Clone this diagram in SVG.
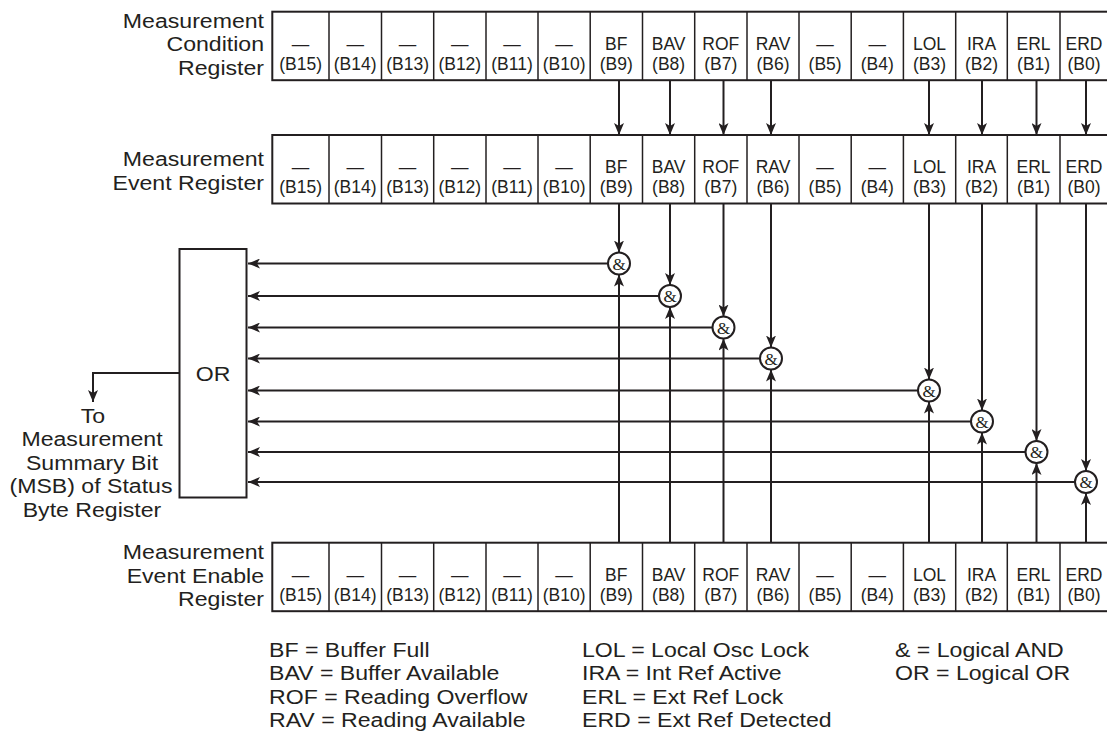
<svg xmlns="http://www.w3.org/2000/svg" width="1107" height="732" viewBox="0 0 1107 732">
<style>
text{font-family:"Liberation Sans",Arial,Helvetica,sans-serif;fill:#231f20}
.lbl{font-size:21px;text-anchor:end}
.cell{font-size:17.5px;text-anchor:middle}
.leg{font-size:21px}
.box{fill:#fff;stroke:#231f20;stroke-width:2}
.div{stroke:#231f20;stroke-width:1.5}
.wire{stroke:#231f20;stroke-width:2;fill:none}
.arr{marker-end:url(#ah)}
.gate circle{fill:#fff;stroke:#231f20;stroke-width:2}
.amp{font-family:"Liberation Serif","Times New Roman",serif;font-size:17px;text-anchor:middle}
.ortxt{font-size:21px;text-anchor:middle}
.out{font-size:21px;text-anchor:middle}
</style>
<defs>
<marker id="ah" viewBox="0 0 12 10" refX="12" refY="5" markerWidth="12" markerHeight="10" markerUnits="userSpaceOnUse" orient="auto">
<path d="M0,0 L12,5 L0,10 L3,5 Z" fill="#231f20"/>
</marker>
</defs>

<!-- Measurement Condition Register -->
<g id="condition-register">
<g transform="translate(264,0) scale(1.1,1)">
<text class="lbl" x="0" y="27.7">Measurement</text>
<text class="lbl" x="0" y="51.4">Condition</text>
<text class="lbl" x="0" y="75.1">Register</text>
</g>
<rect class="box" x="272.3" y="11.7" width="840" height="68.5"/>
<g class="div">
<line x1="329" y1="11.7" x2="329" y2="80.2"/><line x1="381.5" y1="11.7" x2="381.5" y2="80.2"/><line x1="433.7" y1="11.7" x2="433.7" y2="80.2"/><line x1="486" y1="11.7" x2="486" y2="80.2"/><line x1="538" y1="11.7" x2="538" y2="80.2"/><line x1="590.2" y1="11.7" x2="590.2" y2="80.2"/><line x1="642.5" y1="11.7" x2="642.5" y2="80.2"/><line x1="694.7" y1="11.7" x2="694.7" y2="80.2"/><line x1="747" y1="11.7" x2="747" y2="80.2"/><line x1="799" y1="11.7" x2="799" y2="80.2"/><line x1="851.2" y1="11.7" x2="851.2" y2="80.2"/><line x1="903.4" y1="11.7" x2="903.4" y2="80.2"/><line x1="955.7" y1="11.7" x2="955.7" y2="80.2"/><line x1="1007.3" y1="11.7" x2="1007.3" y2="80.2"/><line x1="1060" y1="11.7" x2="1060" y2="80.2"/>
</g>
<g class="cell">
<text x="300.6" y="49.7">—</text><text x="300.6" y="69.7">(B15)</text>
<text x="355.2" y="49.7">—</text><text x="355.2" y="69.7">(B14)</text>
<text x="407.6" y="49.7">—</text><text x="407.6" y="69.7">(B13)</text>
<text x="459.8" y="49.7">—</text><text x="459.8" y="69.7">(B12)</text>
<text x="512" y="49.7">—</text><text x="512" y="69.7">(B11)</text>
<text x="564.1" y="49.7">—</text><text x="564.1" y="69.7">(B10)</text>
<text x="616.3" y="49.7">BF</text><text x="616.3" y="69.7">(B9)</text>
<text x="668.6" y="49.7">BAV</text><text x="668.6" y="69.7">(B8)</text>
<text x="720.8" y="49.7">ROF</text><text x="720.8" y="69.7">(B7)</text>
<text x="773" y="49.7">RAV</text><text x="773" y="69.7">(B6)</text>
<text x="825.1" y="49.7">—</text><text x="825.1" y="69.7">(B5)</text>
<text x="877.3" y="49.7">—</text><text x="877.3" y="69.7">(B4)</text>
<text x="929.5" y="49.7">LOL</text><text x="929.5" y="69.7">(B3)</text>
<text x="981.5" y="49.7">IRA</text><text x="981.5" y="69.7">(B2)</text>
<text x="1033.6" y="49.7">ERL</text><text x="1033.6" y="69.7">(B1)</text>
<text x="1084" y="49.7">ERD</text><text x="1084" y="69.7">(B0)</text>
</g>
</g>

<!-- Measurement Event Register -->
<g id="event-register">
<g transform="translate(264,0) scale(1.1,1)">
<text class="lbl" x="0" y="166">Measurement</text>
<text class="lbl" x="0" y="190">Event Register</text>
</g>
<rect class="box" x="272.3" y="135" width="840" height="68.5"/>
<g class="div">
<line x1="329" y1="135" x2="329" y2="203.5"/><line x1="381.5" y1="135" x2="381.5" y2="203.5"/><line x1="433.7" y1="135" x2="433.7" y2="203.5"/><line x1="486" y1="135" x2="486" y2="203.5"/><line x1="538" y1="135" x2="538" y2="203.5"/><line x1="590.2" y1="135" x2="590.2" y2="203.5"/><line x1="642.5" y1="135" x2="642.5" y2="203.5"/><line x1="694.7" y1="135" x2="694.7" y2="203.5"/><line x1="747" y1="135" x2="747" y2="203.5"/><line x1="799" y1="135" x2="799" y2="203.5"/><line x1="851.2" y1="135" x2="851.2" y2="203.5"/><line x1="903.4" y1="135" x2="903.4" y2="203.5"/><line x1="955.7" y1="135" x2="955.7" y2="203.5"/><line x1="1007.3" y1="135" x2="1007.3" y2="203.5"/><line x1="1060" y1="135" x2="1060" y2="203.5"/>
</g>
<g class="cell">
<text x="300.6" y="173">—</text><text x="300.6" y="193">(B15)</text>
<text x="355.2" y="173">—</text><text x="355.2" y="193">(B14)</text>
<text x="407.6" y="173">—</text><text x="407.6" y="193">(B13)</text>
<text x="459.8" y="173">—</text><text x="459.8" y="193">(B12)</text>
<text x="512" y="173">—</text><text x="512" y="193">(B11)</text>
<text x="564.1" y="173">—</text><text x="564.1" y="193">(B10)</text>
<text x="616.3" y="173">BF</text><text x="616.3" y="193">(B9)</text>
<text x="668.6" y="173">BAV</text><text x="668.6" y="193">(B8)</text>
<text x="720.8" y="173">ROF</text><text x="720.8" y="193">(B7)</text>
<text x="773" y="173">RAV</text><text x="773" y="193">(B6)</text>
<text x="825.1" y="173">—</text><text x="825.1" y="193">(B5)</text>
<text x="877.3" y="173">—</text><text x="877.3" y="193">(B4)</text>
<text x="929.5" y="173">LOL</text><text x="929.5" y="193">(B3)</text>
<text x="981.5" y="173">IRA</text><text x="981.5" y="193">(B2)</text>
<text x="1033.6" y="173">ERL</text><text x="1033.6" y="193">(B1)</text>
<text x="1084" y="173">ERD</text><text x="1084" y="193">(B0)</text>
</g>
</g>

<!-- Measurement Event Enable Register -->
<g id="enable-register">
<g transform="translate(264,0) scale(1.1,1)">
<text class="lbl" x="0" y="559">Measurement</text>
<text class="lbl" x="0" y="582.7">Event Enable</text>
<text class="lbl" x="0" y="606.4">Register</text>
</g>
<rect class="box" x="272.3" y="542.7" width="840" height="68.5"/>
<g class="div">
<line x1="329" y1="542.7" x2="329" y2="611.2"/><line x1="381.5" y1="542.7" x2="381.5" y2="611.2"/><line x1="433.7" y1="542.7" x2="433.7" y2="611.2"/><line x1="486" y1="542.7" x2="486" y2="611.2"/><line x1="538" y1="542.7" x2="538" y2="611.2"/><line x1="590.2" y1="542.7" x2="590.2" y2="611.2"/><line x1="642.5" y1="542.7" x2="642.5" y2="611.2"/><line x1="694.7" y1="542.7" x2="694.7" y2="611.2"/><line x1="747" y1="542.7" x2="747" y2="611.2"/><line x1="799" y1="542.7" x2="799" y2="611.2"/><line x1="851.2" y1="542.7" x2="851.2" y2="611.2"/><line x1="903.4" y1="542.7" x2="903.4" y2="611.2"/><line x1="955.7" y1="542.7" x2="955.7" y2="611.2"/><line x1="1007.3" y1="542.7" x2="1007.3" y2="611.2"/><line x1="1060" y1="542.7" x2="1060" y2="611.2"/>
</g>
<g class="cell">
<text x="300.6" y="580.7">—</text><text x="300.6" y="600.7">(B15)</text>
<text x="355.2" y="580.7">—</text><text x="355.2" y="600.7">(B14)</text>
<text x="407.6" y="580.7">—</text><text x="407.6" y="600.7">(B13)</text>
<text x="459.8" y="580.7">—</text><text x="459.8" y="600.7">(B12)</text>
<text x="512" y="580.7">—</text><text x="512" y="600.7">(B11)</text>
<text x="564.1" y="580.7">—</text><text x="564.1" y="600.7">(B10)</text>
<text x="616.3" y="580.7">BF</text><text x="616.3" y="600.7">(B9)</text>
<text x="668.6" y="580.7">BAV</text><text x="668.6" y="600.7">(B8)</text>
<text x="720.8" y="580.7">ROF</text><text x="720.8" y="600.7">(B7)</text>
<text x="773" y="580.7">RAV</text><text x="773" y="600.7">(B6)</text>
<text x="825.1" y="580.7">—</text><text x="825.1" y="600.7">(B5)</text>
<text x="877.3" y="580.7">—</text><text x="877.3" y="600.7">(B4)</text>
<text x="929.5" y="580.7">LOL</text><text x="929.5" y="600.7">(B3)</text>
<text x="981.5" y="580.7">IRA</text><text x="981.5" y="600.7">(B2)</text>
<text x="1033.6" y="580.7">ERL</text><text x="1033.6" y="600.7">(B1)</text>
<text x="1084" y="580.7">ERD</text><text x="1084" y="600.7">(B0)</text>
</g>
</g>

<!-- OR gate -->
<g id="or-box">
<rect class="box" x="179.5" y="249" width="67" height="248.5"/>
<g transform="translate(213,0) scale(1.1,1)"><text class="ortxt" x="0" y="381">OR</text></g>
</g>

<!-- AND gates -->
<g id="and-bf" class="gate"><circle cx="619" cy="263.5" r="11"/><text class="amp" x="619" y="269.5">&amp;</text></g>
<g id="and-bav" class="gate"><circle cx="670" cy="296" r="11"/><text class="amp" x="670" y="302">&amp;</text></g>
<g id="and-rof" class="gate"><circle cx="723.5" cy="327.5" r="11"/><text class="amp" x="723.5" y="333.5">&amp;</text></g>
<g id="and-rav" class="gate"><circle cx="771" cy="358.5" r="11"/><text class="amp" x="771" y="364.5">&amp;</text></g>
<g id="and-lol" class="gate"><circle cx="929" cy="390.5" r="11"/><text class="amp" x="929" y="396.5">&amp;</text></g>
<g id="and-ira" class="gate"><circle cx="982" cy="421.5" r="11"/><text class="amp" x="982" y="427.5">&amp;</text></g>
<g id="and-erl" class="gate"><circle cx="1036.5" cy="452" r="11"/><text class="amp" x="1036.5" y="458">&amp;</text></g>
<g id="and-erd" class="gate"><circle cx="1086" cy="482" r="11"/><text class="amp" x="1086" y="488">&amp;</text></g>

<!-- Connectors -->
<g id="connectors" class="wire">
<line class="arr" x1="619" y1="80.2" x2="619" y2="135"/>
<line class="arr" x1="670" y1="80.2" x2="670" y2="135"/>
<line class="arr" x1="723.5" y1="80.2" x2="723.5" y2="135"/>
<line class="arr" x1="771" y1="80.2" x2="771" y2="135"/>
<line class="arr" x1="929" y1="80.2" x2="929" y2="135"/>
<line class="arr" x1="982" y1="80.2" x2="982" y2="135"/>
<line class="arr" x1="1036.5" y1="80.2" x2="1036.5" y2="135"/>
<line class="arr" x1="1086" y1="80.2" x2="1086" y2="135"/>
<line class="arr" x1="619" y1="203.5" x2="619" y2="252.5"/>
<line class="arr" x1="670" y1="203.5" x2="670" y2="285"/>
<line class="arr" x1="723.5" y1="203.5" x2="723.5" y2="316.5"/>
<line class="arr" x1="771" y1="203.5" x2="771" y2="347.5"/>
<line class="arr" x1="929" y1="203.5" x2="929" y2="379.5"/>
<line class="arr" x1="982" y1="203.5" x2="982" y2="410.5"/>
<line class="arr" x1="1036.5" y1="203.5" x2="1036.5" y2="441"/>
<line class="arr" x1="1086" y1="203.5" x2="1086" y2="471"/>
<line class="arr" x1="619" y1="542.7" x2="619" y2="274.5"/>
<line class="arr" x1="670" y1="542.7" x2="670" y2="307"/>
<line class="arr" x1="723.5" y1="542.7" x2="723.5" y2="338.5"/>
<line class="arr" x1="771" y1="542.7" x2="771" y2="369.5"/>
<line class="arr" x1="929" y1="542.7" x2="929" y2="401.5"/>
<line class="arr" x1="982" y1="542.7" x2="982" y2="432.5"/>
<line class="arr" x1="1036.5" y1="542.7" x2="1036.5" y2="463"/>
<line class="arr" x1="1086" y1="542.7" x2="1086" y2="493"/>
<line class="arr" x1="608" y1="263.5" x2="248" y2="263.5"/>
<line class="arr" x1="659" y1="296" x2="248" y2="296"/>
<line class="arr" x1="712.5" y1="327.5" x2="248" y2="327.5"/>
<line class="arr" x1="760" y1="358.5" x2="248" y2="358.5"/>
<line class="arr" x1="918" y1="390.5" x2="248" y2="390.5"/>
<line class="arr" x1="971" y1="421.5" x2="248" y2="421.5"/>
<line class="arr" x1="1025.5" y1="452" x2="248" y2="452"/>
<line class="arr" x1="1075" y1="482" x2="248" y2="482"/>
<polyline class="arr" points="179.5,373 93,373 93,402"/>
</g>

<g id="output-label" transform="translate(92,0) scale(1.1,1)">
<text class="out" x="0.9" y="423">To</text>
<text class="out" x="0" y="446.5">Measurement</text>
<text class="out" x="0" y="470">Summary Bit</text>
<text class="out" x="-0.9" y="493.5">(MSB) of Status</text>
<text class="out" x="0" y="517">Byte Register</text>
</g>

<g id="legend" class="leg">
<g transform="translate(269,0) scale(1.1,1)">
<text x="0" y="657">BF = Buffer Full</text>
<text x="0" y="680.5">BAV = Buffer Available</text>
<text x="0" y="704">ROF = Reading Overflow</text>
<text x="0" y="727.5">RAV = Reading Available</text>
</g>
<g transform="translate(582,0) scale(1.1,1)">
<text x="0" y="657">LOL = Local Osc Lock</text>
<text x="0" y="680.5">IRA = Int Ref Active</text>
<text x="0" y="704">ERL = Ext Ref Lock</text>
<text x="0" y="727.5">ERD = Ext Ref Detected</text>
</g>
<g transform="translate(895,0) scale(1.1,1)">
<text x="0" y="657">&amp; = Logical AND</text>
<text x="0" y="680.5">OR = Logical OR</text>
</g>
</g>
</svg>
